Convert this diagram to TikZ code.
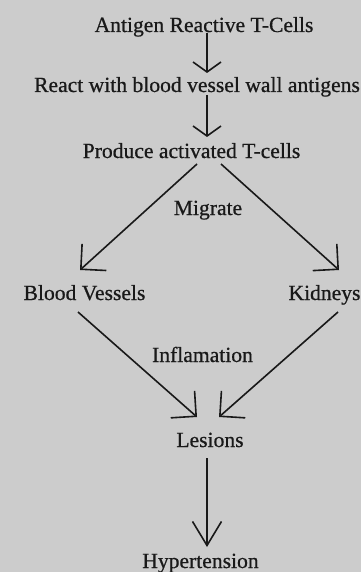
\documentclass[tikz,border=0pt]{standalone}
\usepackage{fontspec}
\setmainfont{Liberation Serif}[FakeBold=0.7]
\usetikzlibrary{arrows.meta}
\definecolor{bgc}{RGB}{204,204,204}
\definecolor{ink}{RGB}{25,25,25}
\tikzset{
  lbl/.style={anchor=base, inner sep=0pt, text=ink, font=\fontsize{21.6}{26}\selectfont},
  conn/.style={draw=ink, line width=1.6pt},
  shorthead/.style={conn, -{Straight Barb[length=10pt,width=28pt,line width=1.6pt]}},
  longhead/.style={conn, -{Straight Barb[length=24pt,width=29pt,line width=1.6pt]}},
  diaghead/.style={conn, -{Straight Barb[length=18pt,width=36pt,line width=1.6pt]}}
}
\begin{document}
\begin{tikzpicture}[x=1pt,y=-1pt]
\fill[bgc] (0,0) rectangle (361,572);
\useasboundingbox (0,0) rectangle (361,572);
\node[lbl] (a) at (204,32) {Antigen Reactive T-Cells};
\node[lbl] (b) at (197,92) {React with blood vessel wall antigens};
\node[lbl] (c) at (191.5,158) {Produce activated T-cells};
\node[lbl] (mig) at (208,215) {Migrate};
\node[lbl] (bv) at (84.5,300) {Blood Vessels};
\node[lbl] (k) at (324.5,300) {Kidneys};
\node[lbl] (inf) at (202.5,362) {Inflamation};
\node[lbl] (l) at (210,447) {Lesions};
\node[lbl] (h) at (200.5,568) {Hypertension};
\draw[shorthead] ([shift={(3,1)}]a.base) -- ([shift={(10,-19)}]b.base);
\draw[shorthead] ([shift={(10,3)}]b.base) -- ([shift={(15.5,-21)}]c.base);
\draw[diaghead] ([shift={(5.5,6)}]c.base) -- ([shift={(-4.5,-30)}]bv.base);
\draw[diaghead] ([shift={(29.5,6)}]c.base) -- ([shift={(14.5,-30)}]k.base);
\draw[diaghead] ([shift={(-6.5,12)}]bv.base) -- ([shift={(-13,-30)}]l.base);
\draw[diaghead] ([shift={(13.5,12)}]k.base) -- ([shift={(9,-30)}]l.base);
\draw[longhead] ([shift={(-3,11)}]l.base) -- ([shift={(6.5,-21)}]h.base);
\end{tikzpicture}
\end{document}
